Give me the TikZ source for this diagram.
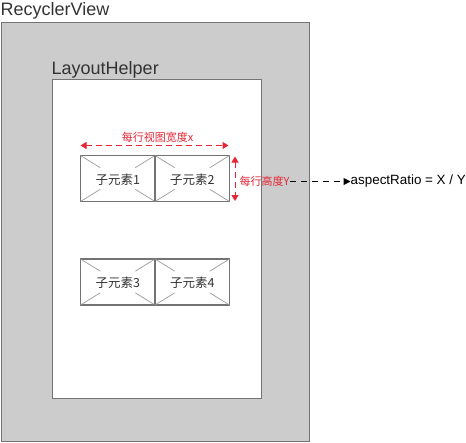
\documentclass[tikz,border=0pt]{standalone}
\usepackage{fontspec}
\setmainfont{Liberation Sans}
\newfontfamily\cjk{Noto Sans CJK SC}
\usetikzlibrary{arrows.meta,calc}
\definecolor{rvgray}{HTML}{CCCCCC}
\definecolor{edgegray}{HTML}{737373}
\definecolor{crossgray}{HTML}{9A9A9A}
\definecolor{dimred}{RGB}{228,38,54}
\tikzset{
  panel/.style={draw=edgegray, line width=1pt, inner sep=0pt, outer sep=0pt},
  itembox/.style={draw=edgegray, line width=1.2pt, fill=white, minimum width=74.5pt, minimum height=46pt, inner sep=0pt, outer sep=0pt},
  itemtext/.style={font=\cjk\fontsize{12.5}{14}\selectfont, text=black!80, inner sep=1pt},
  crossline/.style={draw=crossgray, line width=0.7pt},
  title/.style={font=\fontsize{18}{20}\selectfont, text=black!80, inner sep=0pt, anchor=base west},
  redlabel/.style={font=\cjk\fontsize{11}{12}\selectfont, text=dimred, inner sep=0pt},
  reddim/.style={draw=dimred, line width=1pt, dash pattern=on 6pt off 4pt, {Triangle[length=6pt,width=7pt]}-{Triangle[length=6pt,width=7pt]}},
  blackdim/.style={draw=black, line width=1pt, dash pattern=on 6pt off 5pt, -{Triangle[length=7pt,width=7pt]}},
}
\begin{document}
\begin{tikzpicture}[x=1pt,y=-1pt]
\useasboundingbox (0,0) rectangle (466,442);
% outer RecyclerView
\node[panel, fill=rvgray, minimum width=308pt, minimum height=419pt] (rv) at (155,231.5) {};
\node[title] (rvlabel) at (0.5,15.5) {RecyclerView};
% inner LayoutHelper
\node[panel, fill=white, minimum width=209pt, minimum height=319pt] (lh) at (156.5,238.5) {};
\node[title] (lhlabel) at (51.5,74) {LayoutHelper};
% items
\foreach \n/\cx/\cy/\t in {b1/117.75/178.5/1, b2/192.25/178.5/2, b3/117.75/282/3, b4/192.25/282/4}{
  \node[itembox] (\n) at (\cx,\cy) {};
  \draw[crossline] (\n.north west) -- ($(\n.north west)!0.53!(\n.center)$);
  \draw[crossline] (\n.north east) -- ($(\n.north east)!0.53!(\n.center)$);
  \draw[crossline] (\n.south west) -- ($(\n.south west)!0.53!(\n.center)$);
  \draw[crossline] (\n.south east) -- ($(\n.south east)!0.53!(\n.center)$);
  \node[itemtext] (\n t) at (\cx,\cy+1) {子元素\t};
}
% width dimension
\coordinate (wl) at ($(b1.north west)+(0,-10)$);
\coordinate (wr) at ($(b2.north east)+(-1,-10)$);
\draw[reddim] (wl) -- (wr);
\node[redlabel] (wlabel) at (157.5,137.5) {每行视图宽度x};
% height dimension
\coordinate (ht) at ($(b2.north east)+(5.5,1)$);
\coordinate (hb) at ($(b2.south east)+(5.5,-0.5)$);
\draw[reddim] (ht) -- (hb);
\node[redlabel, anchor=west] (hlabel) at (239.5,181.5) {每行高度Y};
% ratio
\node[font=\fontsize{13.4}{15}\selectfont, inner sep=0pt, anchor=west] (ratio) at (350.5,181.5) {aspectRatio = X / Y};
\draw[blackdim] (hlabel.east) -- (ratio.west);
\end{tikzpicture}
\end{document}
